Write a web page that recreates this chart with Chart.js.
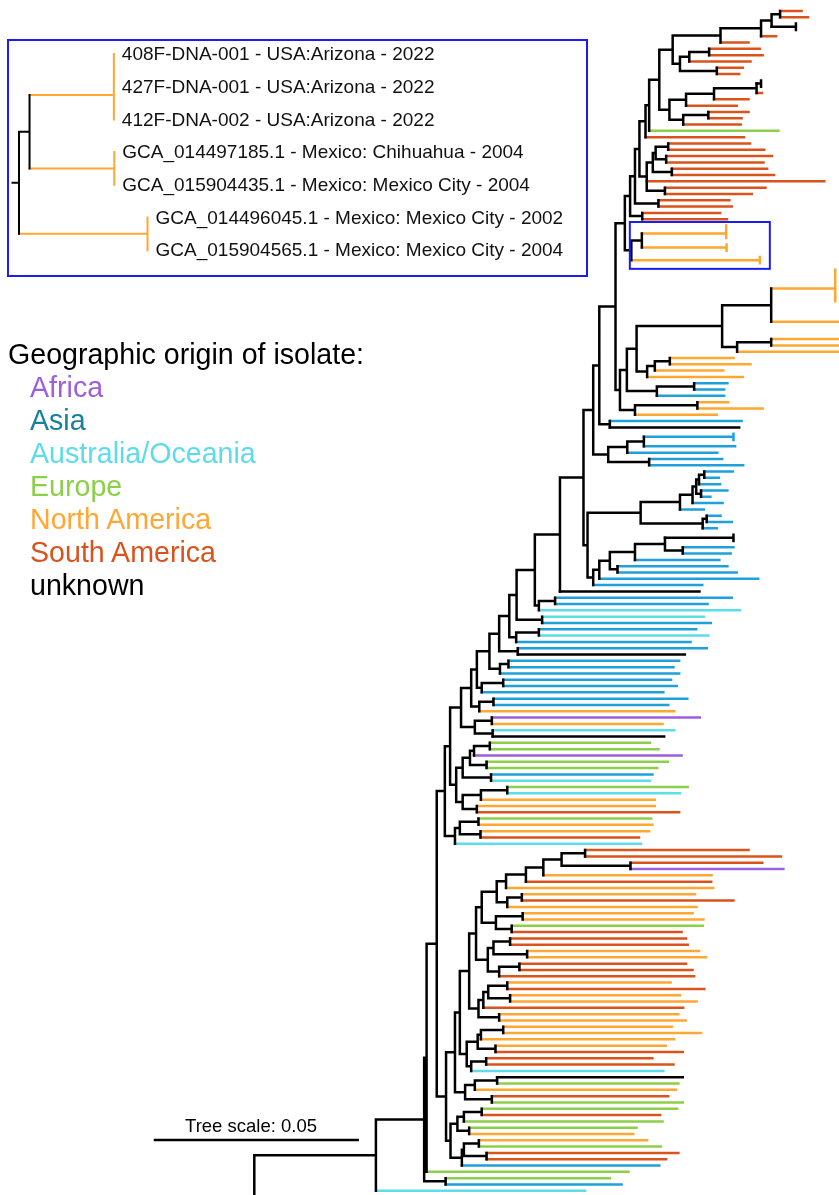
<!DOCTYPE html>
<html lang="en">
<head>
<meta charset="UTF-8">
<title>Geographic origin of isolates - tree</title>
<script src="https://cdn.jsdelivr.net/npm/chart.js"></script>
<style>
  body { margin: 0; background: #fff; font-family: "Liberation Sans", Arial, sans-serif; }
  #page { position: relative; width: 839px; height: 1195px; overflow: hidden; }
  canvas { position: absolute; left: 0; top: 0; }
  #insetBox {
    position: absolute; left: 7px; top: 39px; width: 581px; height: 238px;
    border: 2px solid #1c1cf0; box-sizing: border-box;
  }
  #legend { position: absolute; left: 8px; top: 338px; font-size: 28.6px; line-height: 33px; white-space: nowrap; }
  #legend .item { padding-left: 22px; }
  #scaleLabel { position: absolute; left: 140px; width: 222px; top: 1116px; font-size: 18.5px; line-height: 20px; text-align: center; }
</style>
</head>
<body>
<div id="page">
  <canvas id="treeCanvas" width="839" height="1195"></canvas>
  <div id="insetBox"></div>
  <canvas id="insetCanvas" width="600" height="290"></canvas>
  <div id="legend"></div>
  <div id="scaleLabel"></div>
</div>

<script>
// regions (tip colours) and legend
const regionNames  = ['Africa', 'Asia', 'Australia/Oceania', 'Europe', 'North America', 'South America', 'unknown'];
const regionCodes  = ['A', 'S', 'O', 'E', 'N', 'R', 'U'];
const legendColors = ['#9e5fde', '#17819c', '#5cdcea', '#8ccf48', '#ffa733', '#d9531c', '#000000'];
const branchColors = { A: '#9d5fe0', S: '#1fa0da', O: '#5ddcea', E: '#8ccf48', N: '#ffa733', R: '#d9531c', U: '#000000' };

const treeScale = 0.05;

// tree: depths are substitutions/site x 1000 from the root
// tip = [region, depth], zero-length group = [region, depth, sizes...], node = [depth, children...]
const cladeSouthAmerica = [92.7,
  [93.9,
    [95.0,
      [96.5,
        [97.4,
          [99.9,
            [103.2,
              [115.0, [125.0, [127.6, [129.7, ['R', 135.0], ['R', 136.6]], ['U', 133.6, 2]], ['R', 128.7]], ['R', 121.9]],
              [105.0, [107.3, [112.2, ['R', 124.7], ['R', 125.4]], ['R', 122.4]], [114.1, ['R', 120.5], ['R', 119.6]]]
            ],
            [102.4,
              [106.5, [113.4, [123.9, ['U', 125.0, 2], ['R', 125.2]], ['R', 121.9]], ['R', 119.0]],
              [105.8, [112.0, ['R', 121.9], ['R', 120.2]], ['R', 120.0]]
            ]
          ],
          ['E', 129.3]
        ],
        ['R', 120.8]
      ],
      [96.8,
        [98.3, [99.0, [102.1, ['R', 122.3], ['R', 125.8]], [101.6, ['R', 127.7], ['R', 125.6]]], [103.0, ['R', 126.5], ['R', 128.2]]],
        ['R', 140.6],
        [101.3, ['R', 126.1], ['R', 122.7]]
      ]
    ],
    [99.7, ['R', 117.2], ['R', 117.8]]
  ],
  [95.7, ['R', 114.9], ['R', 116.6]]
];

const cladeArizona = [93.0, [95.6, ['N', 116.4, 2, 1], ['N', 116.5, 2]], ['N', 124.7, 2]];

const insetLabels = [
  '408F-DNA-001 - USA:Arizona - 2022',
  '427F-DNA-001 - USA:Arizona - 2022',
  '412F-DNA-002 - USA:Arizona - 2022',
  'GCA_014497185.1 - Mexico: Chihuahua - 2004',
  'GCA_015904435.1 - Mexico: Mexico City - 2004',
  'GCA_014496045.1 - Mexico: Mexico City - 2002',
  'GCA_015904565.1 - Mexico: Mexico City - 2004'
];

const cladeUpper = [91.4, cladeSouthAmerica, cladeArizona];

const cladeNorthAmerica = [94.3,
  [115.4,
    [127.5, ['N', 143.3, 4, 2], ['N', 152, 3, 2]],
    [119.1, [127.5, ['N', 152], ['N', 152]], ['N', 152]]
  ],
  [96.9, [98.8, [102.5, ['N', 118.2], ['N', 122.4]], ['N', 115.7]], ['N', 120.5]]
];

const cladeMixedUpper = [89.1,
  cladeUpper,
  [90.2,
    [91.9, cladeNorthAmerica, [99.3, [108.5, ['S', 116.7], ['S', 115.9]], ['S', 115.9]]],
    [93.9, [109.3, ['N', 116.9], ['N', 125.4]], ['N', 114.1]]
  ]
];

const cladeAsiaA = [87.3,
  [92.0, [96.1, ['S', 118.2, 2], ['S', 118.6]], ['S', 114.2]],
  [97.4, ['S', 115.4], ['S', 120.6]]
];

const cladeAsiaB = [95.3,
  [105.0, [108.1, [109.0, [109.7, [111.0, ['S', 118.0], ['S', 114.6]], ['S', 114.9]], [110.2, ['S', 116.7], ['S', 112.5]]], ['S', 115.5]], ['S', 110.9]],
  [110.6, [111.6, ['S', 115.0], ['S', 117.8]], ['S', 114.1]]
];

const cladeAsiaC = [83.6,
  [85.1,
    [87.7, [93.9, [101.3, ['U', 118.2, 2], [105.7, ['S', 118.2], ['S', 117.5]]], ['S', 114.7]], [89.6, ['S', 116.7], ['S', 119.0]]],
    ['S', 124.3]
  ],
  ['S', 110.5]
];

const cladeAsia = [81.2,
  [83.6, [85.1, cladeMixedUpper, [87.7, ['S', 120.2], ['U', 119.6]]], cladeAsiaA],
  [82.2, cladeAsiaB, cladeAsiaC]
];

const cladeAsiaLadder = [51.0,
  [53.5,
    [54.9,
      [58.0,
        [60.4,
          [62.9,
            [64.7,
              [69.2, [75.4, cladeAsia, ['U', 109.8]], [70.2, [74.2, ['S', 117.8], ['S', 111.8]], ['O', 119.8]]],
              [71.0, ['O', 110.9], ['S', 112.6]]
            ],
            [64.6, [70.2, ['S', 109.0], ['O', 112.0]], ['S', 107.6]]
          ],
          [65.0, ['S', 111.6], ['U', 106.2]]
        ],
        [60.6, [62.7, ['S', 104.8], ['S', 103.4]], ['S', 104.8]]
      ],
      [56.1, [61.4, ['S', 102.8], ['S', 104.2]], ['S', 100.9]]
    ],
    [55.5, [59.0, ['S', 106.8], ['S', 102.1]], ['N', 103.6]]
  ],
  [54.4, [58.6, ['A', 109.9], ['N', 100.7]], [58.8, ['O', 103.6], ['U', 101.1]]]
];

const cladeEurope = [49.8,
  [51.4, [53.2, [54.2, [58.1, ['E', 97.6], ['E', 99.7]], ['A', 105.4]], [57.3, ['E', 102.0], ['E', 99.4]]], [58.4, ['S', 98.2], ['O', 97.6]]],
  [51.4, [55.9, [62.4, ['E', 106.9], ['O', 105.0]], ['N', 98.8]], [54.9, ['N', 98.8], ['R', 104.8]]]
];

const cladeMiddle = [47.0,
  [48.3, cladeAsiaLadder, cladeEurope],
  [49.5, [50.7, [55.3, ['E', 97.9], ['N', 98.2]], [55.8, ['N', 97.4], ['R', 94.9]]], ['O', 95.4]]
];

const cladeAmericasA = [54.7,
  [56.1,
    [59.8,
      [62.1, [67.0, [71.3, [75.8, [81.6, ['R', 121.9], ['R', 129.9]], [92.8, ['R', 125.3], ['A', 130.5]]], ['N', 112.8]], ['R', 112.7]], ['N', 113.2]],
      [62.4, [66.0, ['N', 108.7], ['R', 118.2]], ['N', 109.1]]
    ],
    [59.6, [66.2, ['N', 108.1], ['N', 110.8]], [63.5, ['E', 110.6], ['R', 105.4]]]
  ],
  [57.6,
    [59.0, [63.1, ['R', 106.5], ['R', 106.9]], [67.3, ['N', 109.7], ['N', 111.4]]],
    [60.4, [65.4, ['R', 106.5], ['R', 108.1]], ['R', 108.5]]
  ]
];

const cladeAmericasB = [50.7,
  [53.0,
    cladeAmericasA,
    [55.3, [56.5, [57.7, [62.4, ['N', 102.7], ['R', 111.0]], [63.1, ['N', 105.0], ['N', 109.1]]], ['R', 105.8]], [60.4, ['N', 104.6], ['N', 106.4]]]
  ],
  [52.4,
    [55.1, [55.9, [61.4, ['N', 103.0], ['N', 110.2]], ['N', 103.6]], [59.5, ['N', 101.5], ['R', 105.7]]],
    [53.5, [57.2, ['R', 98.2], ['R', 103.4]], ['O', 100.9]]
  ]
];

const cladeLower = [47.3,
  [49.5,
    cladeAmericasB,
    [52.0, [54.4, [59.9, ['U', 105.7], ['E', 104.6]], ['N', 104.0]], [58.6, ['R', 102.1], ['E', 105.7]]]
  ],
  [48.4,
    [50.1, [51.7, [56.1, ['E', 104.3], ['R', 100.1]], ['E', 100.7]], [53.0, ['E', 94.3], ['N', 93.5]]],
    [51.2, [51.7, [55.4, ['N', 96.9], ['E', 100.3]], [57.3, ['R', 104.6], ['R', 101.6]]], ['S', 99.9]]
  ]
];

const treeRoot = [0,
  [30.0,
    [41.9, [42.5, [45.0, cladeMiddle, cladeLower], ['E', 92.3]], [47.2, ['E', 87.7], ['S', 90.6]]],
    ['O', 81.6]
  ],
  ['U', 20]   // rest of the tree, below the crop
];

// ---- layout ----
const PX_PER_UNIT = 4.054;   // 0.05 subst/site = 202.7 px
const ROW_PX = 6.309;

function addSeg(segs, key, x1, y1, x2, y2) {
  if (!segs[key]) segs[key] = [];
  segs[key].push({ x: x1, y: y1 }, { x: x2, y: y2 }, { x: null, y: null });
}

function layoutTree(node, parentDepth, state, segs) {
  let res;
  if (typeof node[0] === 'string') {
    const code = node[0], depth = node[1];
    const sizes = node.length > 2 ? node.slice(2) : [1];
    const first = state.row;
    const centres = [];
    sizes.forEach(n => {
      centres.push(state.row + (n - 1) / 2);
      for (let i = 0; i < n; i++) state.tips.push({ row: state.row + i, depth: depth });
      state.row += n;
    });
    const last = state.row - 1;
    const y = (centres[0] + centres[centres.length - 1]) / 2;
    if (parentDepth !== null) addSeg(segs, code, parentDepth, y, depth, y);
    if (last > first) addSeg(segs, code, depth, first, depth, last);
    res = { y: y, first: first, last: last, maxDepth: depth };
  } else {
    const depth = node[0];
    const kids = node.slice(1).map(k => layoutTree(k, depth, state, segs));
    const y = (kids[0].y + kids[kids.length - 1].y) / 2;
    addSeg(segs, 'node', depth, kids[0].y, depth, kids[kids.length - 1].y);
    if (parentDepth !== null) addSeg(segs, 'node', parentDepth, y, depth, y);
    res = { y: y, first: kids[0].first, last: kids[kids.length - 1].last,
            maxDepth: Math.max(...kids.map(k => k.maxDepth)) };
  }
  if (node === cladeArizona) state.box = { depth: node[0], first: res.first, last: res.last, maxDepth: res.maxDepth };
  return res;
}

function makeDatasets(segs, width) {
  const keys = ['node'].concat(regionCodes);   // black on top
  return keys.filter(k => segs[k]).map(k => ({
    data: segs[k],
    showLine: true,
    spanGaps: false,
    borderColor: k === 'node' ? '#000' : branchColors[k],
    borderWidth: width,
    borderCapStyle: 'square',
    pointRadius: 0,
    pointHoverRadius: 0
  }));
}

const baseOptions = (xMin, xMax, yMin, yMax) => ({
  responsive: false,
  animation: false,
  devicePixelRatio: 1,
  events: [],
  layout: { padding: 0 },
  plugins: { legend: { display: false }, tooltip: { enabled: false } },
  scales: {
    x: { type: 'linear', display: false, min: xMin, max: xMax },
    y: { type: 'linear', display: false, min: yMin, max: yMax, reverse: true }
  }
});

// main tree
const mainState = { row: 0, tips: [] };
const mainSegs = {};
layoutTree(treeRoot, null, mainState, mainSegs);

const barStart = -24.5;
const barRow = (1140 - 11) / ROW_PX;
addSeg(mainSegs, 'node', barStart, barRow, barStart + treeScale * 1000, barRow);

const boxPlugin = {
  id: 'highlightBox',
  afterDatasetsDraw(chart) {
    const { ctx, scales: { x, y } } = chart;
    const b = mainState.box;
    const left = x.getPixelForValue(b.depth) - 1.5;
    const right = x.getPixelForValue(b.maxDepth) + 10;
    const top = y.getPixelForValue(b.first) - 3.5;
    const bottom = y.getPixelForValue(b.last) + 5.5;
    ctx.save();
    ctx.strokeStyle = '#1c1cf0';
    ctx.lineWidth = 2;
    ctx.strokeRect(left, top, right - left, bottom - top);
    ctx.restore();
  }
};

const mainXMin = -254.3 / PX_PER_UNIT;
const mainYMin = -11 / ROW_PX;
new Chart(document.getElementById('treeCanvas'), {
  type: 'scatter',
  data: { datasets: makeDatasets(mainSegs, 2.5) },
  options: baseOptions(mainXMin, mainXMin + 839 / PX_PER_UNIT, mainYMin, mainYMin + 1195 / ROW_PX),
  plugins: [boxPlugin]
});

// inset: the Arizona / Mexico clade with labels
const insetState = { row: 0, tips: [] };
const insetSegs = {};
layoutTree(cladeArizona, cladeUpper[0], insetState, insetSegs);

const INSET_ROW_PX = 32.7;
const labelPlugin = {
  id: 'tipLabels',
  afterDatasetsDraw(chart) {
    const { ctx, scales: { x, y } } = chart;
    ctx.save();
    ctx.font = '19px "Liberation Sans", Arial, sans-serif';
    ctx.fillStyle = '#111';
    ctx.textBaseline = 'middle';
    insetState.tips.forEach((t, i) => {
      ctx.fillText(insetLabels[i], x.getPixelForValue(t.depth) + 8, y.getPixelForValue(t.row) + 1);
    });
    ctx.restore();
  }
};

const insetXMin = cladeArizona[0] - 19 / PX_PER_UNIT;
const insetYMin = -54 / INSET_ROW_PX;
new Chart(document.getElementById('insetCanvas'), {
  type: 'scatter',
  data: { datasets: makeDatasets(insetSegs, 2) },
  options: baseOptions(insetXMin, insetXMin + 600 / PX_PER_UNIT, insetYMin, insetYMin + 290 / INSET_ROW_PX),
  plugins: [labelPlugin]
});

// legend and scale label
const legend = document.getElementById('legend');
legend.innerHTML = '<div>Geographic origin of isolate:</div>' +
  regionNames.map((n, i) => `<div class="item" style="color:${legendColors[i]}">${n}</div>`).join('');
document.getElementById('scaleLabel').textContent = 'Tree scale: ' + treeScale;
</script>
</body>
</html>
